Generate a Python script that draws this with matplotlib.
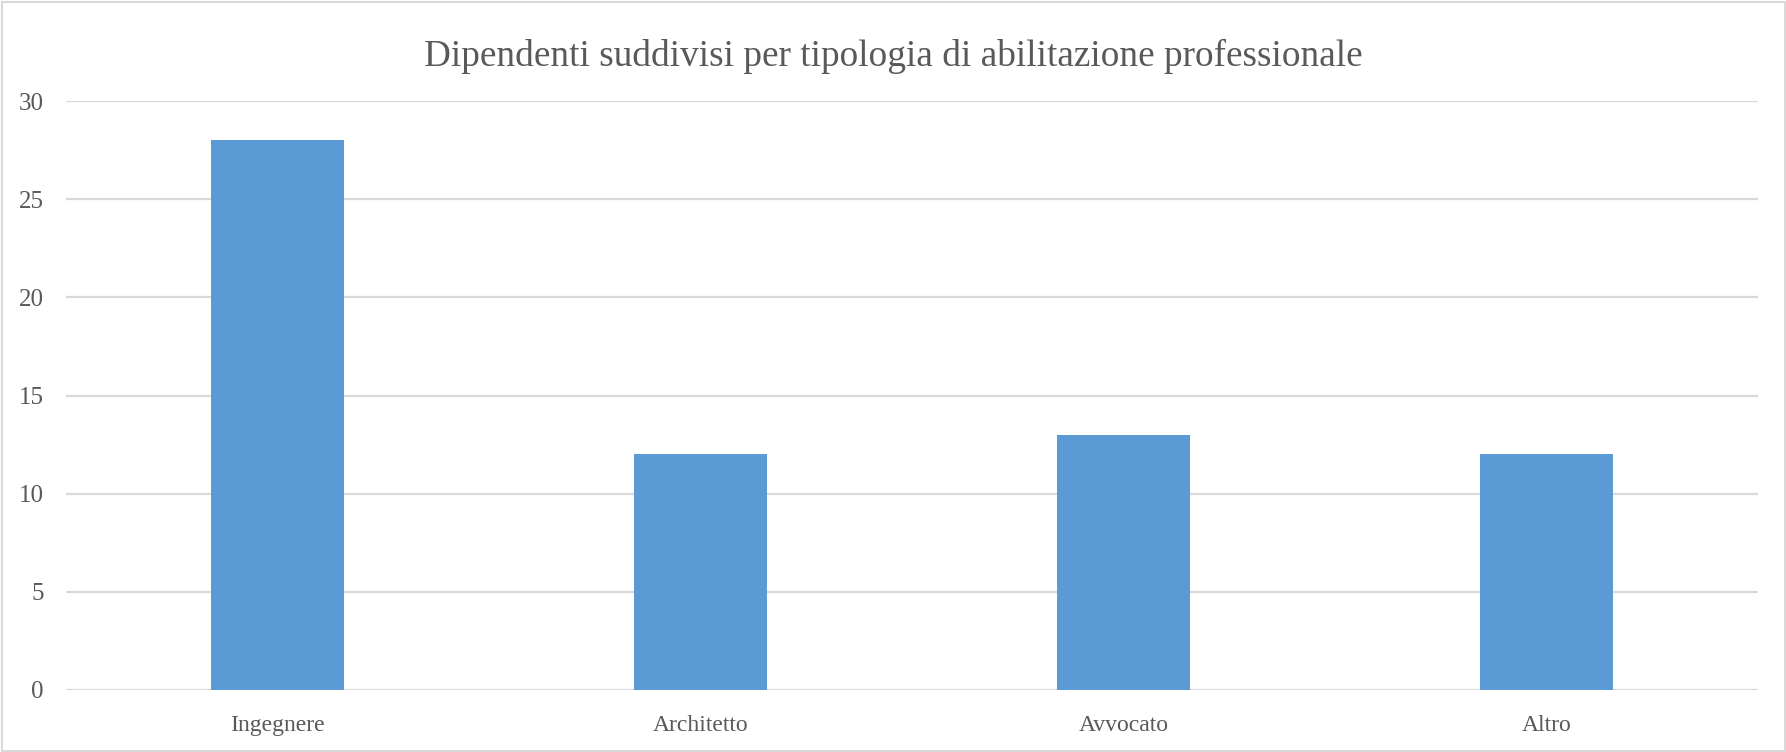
import matplotlib
matplotlib.use("Agg")
import matplotlib.pyplot as plt
from matplotlib.patches import Rectangle

categories = ["Ingegnere", "Architetto", "Avvocato", "Altro"]
values = [28, 12, 13, 12]
yticks = [0, 5, 10, 15, 20, 25, 30]
title = "Dipendenti suddivisi per tipologia di abilitazione professionale"

plt.rcParams['font.family'] = ['Liberation Serif', 'DejaVu Serif']
W, H = 1786, 752
fig = plt.figure(figsize=(W / 100, H / 100), dpi=100)
fig.patch.set_facecolor("white")

left, right, top, bottom = 66, 1758, 101, 690
ax = fig.add_axes([left / W, 1 - bottom / H, (right - left) / W, (bottom - top) / H])
ax.set_facecolor("white")

x = list(range(len(categories)))
ax.bar(x, values, width=0.314, color="#5b9bd5", zorder=3)
ax.set_xlim(-0.5, len(categories) - 0.5)
ax.set_ylim(0, 30)
ax.set_yticks(yticks)
ax.set_yticklabels([str(t) for t in yticks])
ax.set_xticks(x)
ax.set_xticklabels(categories)
for s in ax.spines.values():
    s.set_visible(False)
ax.tick_params(axis="both", length=0, colors="#595959")
ax.tick_params(axis="y", labelsize=18, pad=16)
ax.tick_params(axis="x", labelsize=17, pad=18)
ax.yaxis.grid(True, color="#d9d9d9", linewidth=1.6, zorder=0)
ax.set_axisbelow(True)

fig.text(0.5, 1 - 56 / H, title, ha="center", va="center", fontsize=26.8, color="#595959")

fig.patches.append(Rectangle((1.5 / W, 1.5 / H), (W - 3) / W, (H - 3) / H, transform=fig.transFigure,
                             fill=False, edgecolor="#d9d9d9", linewidth=1.5))

fig.savefig("out.png", dpi=100, facecolor="white")
